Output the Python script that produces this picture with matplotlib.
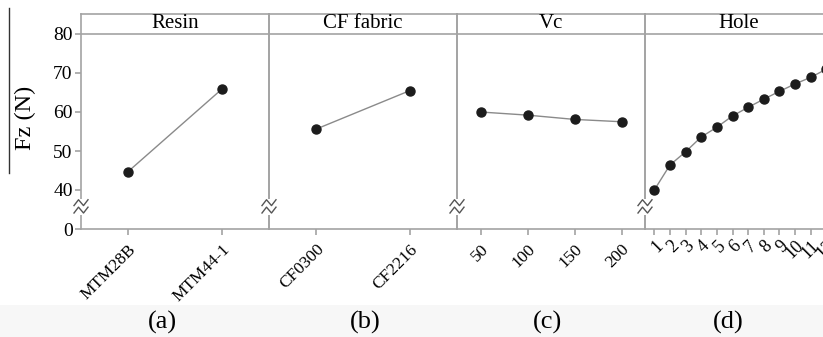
import numpy as np
import matplotlib
matplotlib.use("Agg")
import matplotlib.pyplot as plt
from matplotlib.lines import Line2D
from matplotlib.patches import Rectangle

plt.rcParams['font.family'] = ['Liberation Serif', 'DejaVu Serif']

# data
panel_titles = ["Resin", "CF fabric", "Vc", "Hole"]
panel_tags = ["(a)", "(b)", "(c)", "(d)"]

resin_levels = ["MTM28B", "MTM44-1"]
resin_fz = [44.7, 65.9]

fabric_levels = ["CF0300", "CF2216"]
fabric_fz = [55.6, 65.5]

vc_levels = ["50", "100", "150", "200"]
vc_fz = [60.0, 59.2, 58.1, 57.5]

hole_levels = [str(i) for i in range(1, 13)]
hole_fz = [40.0, 46.4, 49.8, 53.6, 56.1, 59.0, 61.2, 63.3, 65.3, 67.2, 68.9, 71.0]

y_ticks = [30, 40, 50, 60, 70, 80]
y_ticklabels = ["0", "40", "50", "60", "70", "80"]

W, H = 823, 337
fig = plt.figure(figsize=(W / 100, H / 100), dpi=100)
fig.patch.set_facecolor("white")
fig.patches.append(Rectangle((0, 0), 1, (H - 305) / H, transform=fig.transFigure,
                             facecolor="#f7f7f7", edgecolor="none", zorder=0))

grey = "#a3a3a3"
ax_left = [81, 269, 457, 645]
ax_w = 188
ax_bottom = H - 229
ax_h = 229 - 14
ymax = 80 + 20 / 3.9

panels = [
    (resin_levels, resin_fz, (-0.5, 1.5)),
    (fabric_levels, fabric_fz, (-0.5, 1.5)),
    (vc_levels, vc_fz, (-0.5, 3.5)),
    (hole_levels, hole_fz, (0.406, 12.42)),
]

for i, (levels, vals, xl) in enumerate(panels):
    ax = fig.add_axes([ax_left[i] / W, ax_bottom / H, ax_w / W, ax_h / H])
    ax.set_facecolor("none")
    if i == 3:
        xs = np.arange(1, len(levels) + 1)
    else:
        xs = np.arange(len(levels))
    ax.plot(xs, vals, color="#8a8a8a", lw=1.0, zorder=2)
    ax.plot(xs, vals, "o", color="#1c1c1c", ms=6.5, zorder=3)
    ax.set_xlim(*xl)
    ax.set_ylim(30, ymax)
    ax.axhline(80, color=grey, lw=1.2)
    ax.text(0.5, (80 + ymax) / 2, panel_titles[i], transform=ax.get_yaxis_transform(),
            ha="center", va="center", fontsize=15)

    for s in ["top", "bottom", "left", "right"]:
        ax.spines[s].set_color(grey)
        ax.spines[s].set_linewidth(1.2)
    if i == 3:
        ax.spines["right"].set_visible(False)

    ax.set_xticks(xs)
    ax.set_xticklabels(levels, rotation=45, ha="right", rotation_mode="anchor",
                       fontsize=12.5)
    ax.tick_params(axis="x", colors=grey, labelcolor="black", length=4, width=1.2, pad=5)
    if i == 3:
        ax.tick_params(axis="x", pad=2)
        for lab in ax.get_xticklabels():
            lab.set_fontsize(13)

    if i == 0:
        ax.set_yticks(y_ticks)
        ax.set_yticklabels(y_ticklabels, fontsize=14)
        ax.tick_params(axis="y", colors=grey, labelcolor="black", length=4, width=1.2, pad=2)
    else:
        ax.set_yticks([])

    # axis break marks on the left edge
    for yb in [36.5, 34.6]:
        ax.plot([-7 / ax_w, -2.5 / ax_w, 2.5 / ax_w, 7 / ax_w],
                [yb - 0.5, yb + 1.0, yb - 0.5, yb + 1.0],
                transform=ax.get_yaxis_transform(), color="#555555", lw=1.0,
                clip_on=False, zorder=5)
    ax.add_patch(Rectangle((-3 / ax_w, 33.6), 6 / ax_w, 4.2,
                           transform=ax.get_yaxis_transform(), facecolor="white",
                           edgecolor="none", clip_on=False, zorder=4))

    fig.text([162, 365, 548, 728][i] / W, 1 - 322 / H, panel_tags[i],
             ha="center", va="center", fontsize=19)

fig.text(25 / W, 1 - 118 / H, "Fz (N)", rotation=90, ha="center", va="center", fontsize=17.5)
fig.add_artist(Line2D([9 / W, 9 / W], [1 - 8 / H, 1 - 173 / H], color="#333333", lw=1.0))

fig.savefig("out.png", dpi=100)
